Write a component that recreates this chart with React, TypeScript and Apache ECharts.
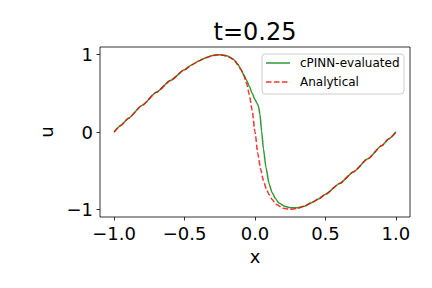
import React, { useEffect, useRef } from "react";
import * as echarts from "echarts";

const xAnalytical = [-1.0, -0.95, -0.9, -0.8, -0.7, -0.6, -0.5, -0.45, -0.4, -0.35, -0.3, -0.25, -0.2, -0.15, -0.12, -0.1, -0.08, -0.06, -0.04, -0.02, 0, 0.02, 0.04, 0.06, 0.08, 0.1, 0.12, 0.15, 0.2, 0.25, 0.3, 0.35, 0.4, 0.45, 0.5, 0.6, 0.7, 0.8, 0.9, 0.95, 1.0];
const uAnalytical = [0, 0.088, 0.175, 0.347, 0.514, 0.667, 0.806, 0.868, 0.918, 0.96, 0.99, 1.0, 0.986, 0.936, 0.87, 0.81, 0.735, 0.63, 0.48, 0.28, 0, -0.28, -0.48, -0.63, -0.735, -0.81, -0.87, -0.936, -0.986, -1.0, -0.99, -0.96, -0.918, -0.868, -0.806, -0.667, -0.514, -0.347, -0.175, -0.088, 0];

const xPinn = [-1.0, -0.95, -0.9, -0.8, -0.7, -0.6, -0.5, -0.45, -0.4, -0.35, -0.3, -0.25, -0.2, -0.15, -0.12, -0.1, -0.08, -0.06, -0.04, -0.02, 0, 0.015, 0.025, 0.035, 0.047, 0.06, 0.078, 0.1, 0.12, 0.145, 0.17, 0.21, 0.25, 0.3, 0.35, 0.4, 0.45, 0.5, 0.6, 0.7, 0.8, 0.9, 0.95, 1.0];
const uPinn = [0, 0.088, 0.175, 0.347, 0.514, 0.667, 0.806, 0.868, 0.918, 0.96, 0.99, 1.0, 0.986, 0.936, 0.87, 0.81, 0.74, 0.67, 0.59, 0.5, 0.42, 0.37, 0.33, 0.23, 0.01, -0.22, -0.46, -0.67, -0.78, -0.86, -0.92, -0.96, -0.98, -0.98, -0.96, -0.915, -0.868, -0.806, -0.667, -0.514, -0.347, -0.175, -0.088, 0];

const xTicks = [-1.0, -0.5, 0, 0.5, 1.0];
const yTicks = [-1, 0, 1];
const titleText = "t=0.25";
const legendNames = ["cPINN-evaluated", "Analytical"];

const FONT = "DejaVu Sans";
const minus = (s: string) => s.replace("-", "\u2212");

export default function App() {
  const ref = useRef<HTMLDivElement>(null);
  useEffect(() => {
    if (!ref.current) return;
    const chart = echarts.init(ref.current, null, { renderer: "svg" });
    const green = "rgba(0,128,0,0.8)";
    const red = "rgba(255,0,0,0.8)";
    chart.setOption({
      animation: false,
      backgroundColor: "#ffffff",
      grid: {
        left: 100,
        right: 22,
        top: 47,
        bottom: 71,
        show: true,
        borderColor: "#000",
        borderWidth: 0.8,
        backgroundColor: "transparent",
      },
      xAxis: {
        type: "value",
        min: -1.1,
        max: 1.1,
        name: "x",
        nameLocation: "middle",
        nameGap: 30,
        nameTextStyle: { fontFamily: FONT, fontSize: 18, color: "#000" },
        axisLine: { show: false, onZero: false },
        splitLine: { show: false },
        axisTick: {
          show: true,
          length: 3.5,
          inside: false,
          customValues: xTicks,
          lineStyle: { color: "#000", width: 0.8 },
        },
        axisLabel: {
          customValues: xTicks,
          margin: 7,
          fontFamily: FONT,
          fontSize: 18,
          color: "#000",
          formatter: (v: number) => minus(v.toFixed(1)),
        },
      },
      yAxis: {
        type: "value",
        min: -1.1,
        max: 1.1,
        name: "u",
        nameLocation: "middle",
        nameGap: 38,
        nameRotate: 90,
        nameTextStyle: { fontFamily: FONT, fontSize: 18, color: "#000" },
        axisLine: { show: false, onZero: false },
        splitLine: { show: false },
        axisTick: {
          show: true,
          length: 3.5,
          inside: false,
          customValues: yTicks,
          lineStyle: { color: "#000", width: 0.8 },
        },
        axisLabel: {
          customValues: yTicks,
          margin: 7,
          fontFamily: FONT,
          fontSize: 18,
          color: "#000",
          formatter: (v: number) => minus(String(Math.round(v))),
        },
      },
      series: [
        {
          name: legendNames[0],
          type: "line",
          data: xPinn.map((x, i) => [x, uPinn[i]]),
          showSymbol: false,
          smooth: 0.2,
          smoothMonotone: "x",
          lineStyle: { color: green, width: 1.5 },
          itemStyle: { color: green },
        },
        {
          name: legendNames[1],
          type: "line",
          data: xAnalytical.map((x, i) => [x, uAnalytical[i]]),
          showSymbol: false,
          smooth: 0.2,
          smoothMonotone: "x",
          lineStyle: { color: red, width: 1.5, type: [5.55, 2.4] },
          itemStyle: { color: red },
        },
      ],
      graphic: [
        {
          type: "text",
          x: 255,
          y: 32,
          style: {
            text: titleText,
            fontFamily: FONT,
            fontSize: 24,
            fill: "#000",
            align: "center",
            verticalAlign: "middle",
          },
        },
        {
          type: "rect",
          shape: { x: 262, y: 54, width: 142, height: 40, r: 3 },
          style: { fill: "rgba(255,255,255,0.8)", stroke: "#cccccc", lineWidth: 1 },
          z: 10,
        },
        {
          type: "line",
          shape: { x1: 266, y1: 63, x2: 290, y2: 63 },
          style: { stroke: green, lineWidth: 1.5 },
          z: 11,
        },
        {
          type: "line",
          shape: { x1: 266, y1: 82, x2: 290, y2: 82 },
          style: { stroke: red, lineWidth: 1.5, lineDash: [5.55, 2.4] },
          z: 11,
        },
        {
          type: "text",
          x: 300,
          y: 63,
          z: 11,
          style: { text: legendNames[0], fontFamily: FONT, fontSize: 12, fill: "#000", verticalAlign: "middle" },
        },
        {
          type: "text",
          x: 300,
          y: 82,
          z: 11,
          style: { text: legendNames[1], fontFamily: FONT, fontSize: 12, fill: "#000", verticalAlign: "middle" },
        },
      ],
    });
    return () => chart.dispose();
  }, []);
  return (
    <div
      ref={ref}
      style={{ position: "fixed", left: 0, top: 0, width: 432, height: 288, background: "#fff" }}
    />
  );
}
